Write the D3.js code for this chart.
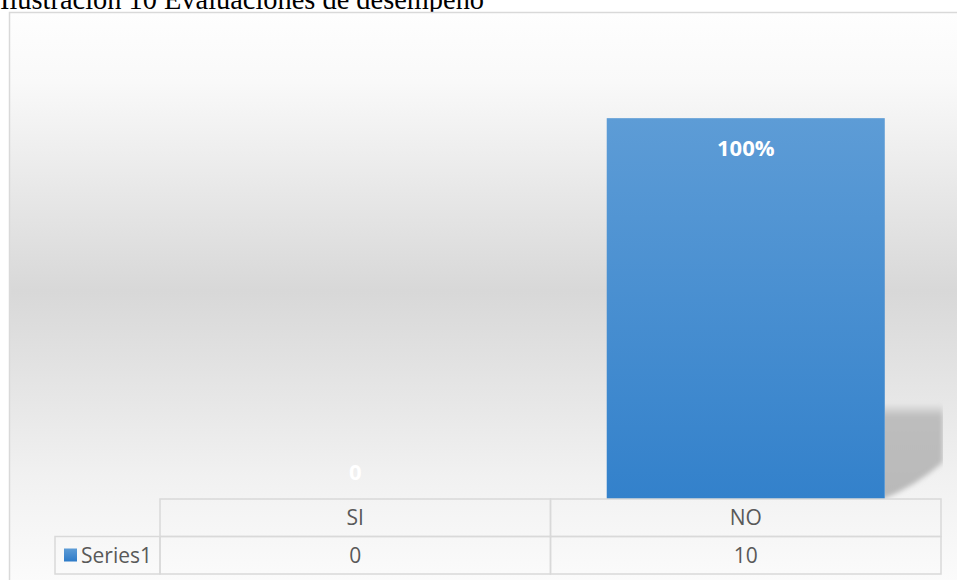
<!DOCTYPE html>
<html>
<head>
<meta charset="utf-8">
<script src="https://cdn.jsdelivr.net/npm/d3@7"></script>
<style>
  body { margin: 0; background: #fff; overflow: hidden; }
  svg { display: block; }
</style>
</head>
<body>
<svg id="chart"></svg>
<script>
// chart data
var categories = ['SI', 'NO'];
var values = [0, 10];
var barLabels = ['0', '100%'];
var seriesName = 'Series1';
var title = 'Ilustración 10 Evaluaciones de desempeño';

var width = 957;
var height = 580;

// plot area (table columns share the same x range)
var plotLeft = 160, plotRight = 941;
var plotTop = 42, plotBottom = 499;
var rowH = 37.5;

var svg = d3.select('#chart')
  .attr('width', width)
  .attr('height', height);

var defs = svg.append('defs');

// background gradient (white -> gray -> white)
var bg = defs.append('linearGradient')
  .attr('id', 'bg').attr('x1', 0).attr('y1', 0).attr('x2', 0).attr('y2', 1);
bg.append('stop').attr('offset', '0%').attr('stop-color', '#fefefe');
bg.append('stop').attr('offset', '12%').attr('stop-color', '#f9f9f9');
bg.append('stop').attr('offset', '48%').attr('stop-color', '#d8d8d8');
bg.append('stop').attr('offset', '80%').attr('stop-color', '#f1f1f1');
bg.append('stop').attr('offset', '100%').attr('stop-color', '#fcfcfc');

// bar gradient
var barGrad = defs.append('linearGradient')
  .attr('id', 'barGrad').attr('x1', 0).attr('y1', 0).attr('x2', 0).attr('y2', 1);
barGrad.append('stop').attr('offset', '0%').attr('stop-color', '#5d9cd6');
barGrad.append('stop').attr('offset', '100%').attr('stop-color', '#3381cb');

var swGrad = defs.append('linearGradient')
  .attr('id', 'swGrad').attr('x1', 0).attr('y1', 0).attr('x2', 0).attr('y2', 1);
swGrad.append('stop').attr('offset', '0%').attr('stop-color', '#5d9cd6');
swGrad.append('stop').attr('offset', '100%').attr('stop-color', '#2e7bc8');

// shadow
var shGrad = defs.append('linearGradient')
  .attr('id', 'shGrad').attr('x1', 0).attr('y1', 0).attr('x2', 0).attr('y2', 1);
shGrad.append('stop').attr('offset', '0%').attr('stop-color', '#e2e2e2');
shGrad.append('stop').attr('offset', '12%').attr('stop-color', '#bdbdbd');
shGrad.append('stop').attr('offset', '100%').attr('stop-color', '#b9b9b9');

defs.append('filter').attr('id', 'blur')
  .append('feGaussianBlur').attr('stdDeviation', 2.5);

defs.append('clipPath').attr('id', 'shClip')
  .append('rect').attr('x', 885).attr('y', 400).attr('width', 58).attr('height', 99);

// title, partly cut off at the top like in the source page
svg.append('text')
  .attr('x', 0)
  .attr('y', 9)
  .style('font-family', '"Liberation Serif", "Times New Roman", serif')
  .style('font-size', '28.4px')
  .style('fill', '#000')
  .text(title);

// chart area
svg.append('rect')
  .attr('x', 9.5).attr('y', 12.5)
  .attr('width', width + 10).attr('height', height)
  .attr('fill', 'url(#bg)')
  .attr('stroke', '#d9d9d9')
  .attr('stroke-width', 1.5);

var x = d3.scaleBand()
  .domain(categories)
  .range([plotLeft, plotRight])
  .paddingInner(0.288)
  .paddingOuter(0.144);

var y = d3.scaleLinear()
  .domain([0, 12])
  .range([plotBottom, plotTop]);

// shadow behind the tallest bar
var maxCat = categories[values.indexOf(d3.max(values))];
var sx = x(maxCat) + x.bandwidth();
svg.append('g').attr('clip-path', 'url(#shClip)')
  .append('path')
  .attr('d', 'M' + (sx - 10) + ',405 L943,405 L943,462 C925,478 905,490 ' + (sx - 2) + ',499 L' + (sx - 10) + ',499 Z')
  .attr('fill', 'url(#shGrad)')
  .attr('filter', 'url(#blur)');

// bars
svg.selectAll('rect.bar')
  .data(values)
  .enter()
  .append('rect')
    .attr('class', 'bar')
    .attr('x', (d, i) => x(categories[i]))
    .attr('y', d => y(d))
    .attr('width', x.bandwidth())
    .attr('height', d => y(0) - y(d))
    .attr('fill', 'url(#barGrad)');

// data labels (inside end)
svg.selectAll('text.lbl')
  .data(values)
  .enter()
  .append('text')
    .attr('class', 'lbl')
    .attr('x', (d, i) => x(categories[i]) + x.bandwidth() / 2)
    .attr('y', d => Math.min(y(d) + 38, y(0) - 19))
    .style('text-anchor', 'middle')
    .style('font-family', '"Open Sans", sans-serif')
    .style('font-weight', 'bold')
    .style('font-size', '22px')
    .style('fill', '#fff')
    .text((d, i) => barLabels[i]);

// data table
var table = svg.append('g')
  .style('font-family', '"Open Sans", sans-serif')
  .style('font-size', '21px')
  .style('fill', '#595959');

var cellStroke = '#d9d9d9';

// header row with categories
table.selectAll('rect.head')
  .data(categories)
  .enter()
  .append('rect')
    .attr('x', (d, i) => plotLeft + i * x.step())
    .attr('y', plotBottom)
    .attr('width', x.step())
    .attr('height', rowH)
    .attr('fill', 'none')
    .attr('stroke', cellStroke)
    .attr('stroke-width', 1.5);

table.selectAll('text.head')
  .data(categories)
  .enter()
  .append('text')
    .attr('x', d => x(d) + x.bandwidth() / 2)
    .attr('y', plotBottom + rowH / 2)
    .attr('dy', '0.35em')
    .style('text-anchor', 'middle')
    .text(d => d);

// value row
var row2 = plotBottom + rowH;
table.append('rect')
  .attr('x', 55).attr('y', row2)
  .attr('width', plotLeft - 55).attr('height', rowH)
  .attr('fill', 'none')
  .attr('stroke', cellStroke)
  .attr('stroke-width', 1.5);

table.selectAll('rect.val')
  .data(values)
  .enter()
  .append('rect')
    .attr('x', (d, i) => plotLeft + i * x.step())
    .attr('y', row2)
    .attr('width', x.step())
    .attr('height', rowH)
    .attr('fill', 'none')
    .attr('stroke', cellStroke)
    .attr('stroke-width', 1.5);

table.selectAll('text.val')
  .data(values)
  .enter()
  .append('text')
    .attr('x', (d, i) => x(categories[i]) + x.bandwidth() / 2)
    .attr('y', row2 + rowH / 2)
    .attr('dy', '0.35em')
    .style('text-anchor', 'middle')
    .text(d => d);

// legend key inside the table
table.append('rect')
  .attr('x', 64).attr('y', row2 + 12)
  .attr('width', 13).attr('height', 13)
  .attr('fill', 'url(#swGrad)');

table.append('text')
  .attr('x', 81)
  .attr('y', row2 + rowH / 2)
  .attr('dy', '0.35em')
  .text(seriesName);
</script>
</body>
</html>
